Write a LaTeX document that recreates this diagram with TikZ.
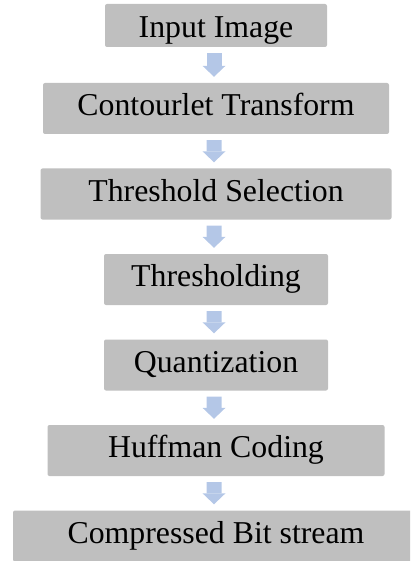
\documentclass[tikz,border=0pt]{standalone}
\usepackage{fontspec}
\setmainfont{Liberation Serif}
\usetikzlibrary{arrows.meta}
\definecolor{boxgray}{RGB}{191,191,191}
\definecolor{arrowblue}{RGB}{180,199,231}
\begin{document}
\begin{tikzpicture}[level/.style={level distance=85.5pt}, level 1/.style={level distance=83pt}]
\tikzset{every node/.style={shape=rectangle,fill=boxgray,rounded corners=2pt,inner sep=0pt,
                            minimum height=51pt,text height=21.6pt,text depth=6.9pt,
                            font=\fontsize{31.8}{36}\selectfont}}
\tikzset{edge from parent/.style={draw,arrowblue,line width=15pt,
                                  -{Triangle[width=23pt,length=11pt,line width=0pt]},
                                  shorten <=6pt,shorten >=6pt},
         edge from parent path={([xshift=-2pt]\tikzparentnode.south) -- ([xshift=-2pt]\tikzchildnode.north)}}
\useasboundingbox (0,0) rectangle (410pt,-561pt);
\clip (0,0) rectangle (410pt,-561pt);
\node[minimum width=222pt,minimum height=43pt,text height=30pt,text depth=6pt] (input) at (216pt,-25.5pt) {Input Image}
    child {
        node[minimum width=346pt] (contourlet) {Contourlet Transform}
        child {
            node[minimum width=351pt] (selection) {Threshold Selection}
            child {
                node[minimum width=224pt] (thresholding) {Thresholding}
                child {
                    node[minimum width=224pt] (quantization) {Quantization}
                    child {
                        node[minimum width=337pt] (huffman) {Huffman Coding}
                        child {
                            node[minimum width=406pt] (bitstream) {Compressed Bit stream}
                        }
                    }
                }
            }
        }
    };
\end{tikzpicture}
\end{document}
